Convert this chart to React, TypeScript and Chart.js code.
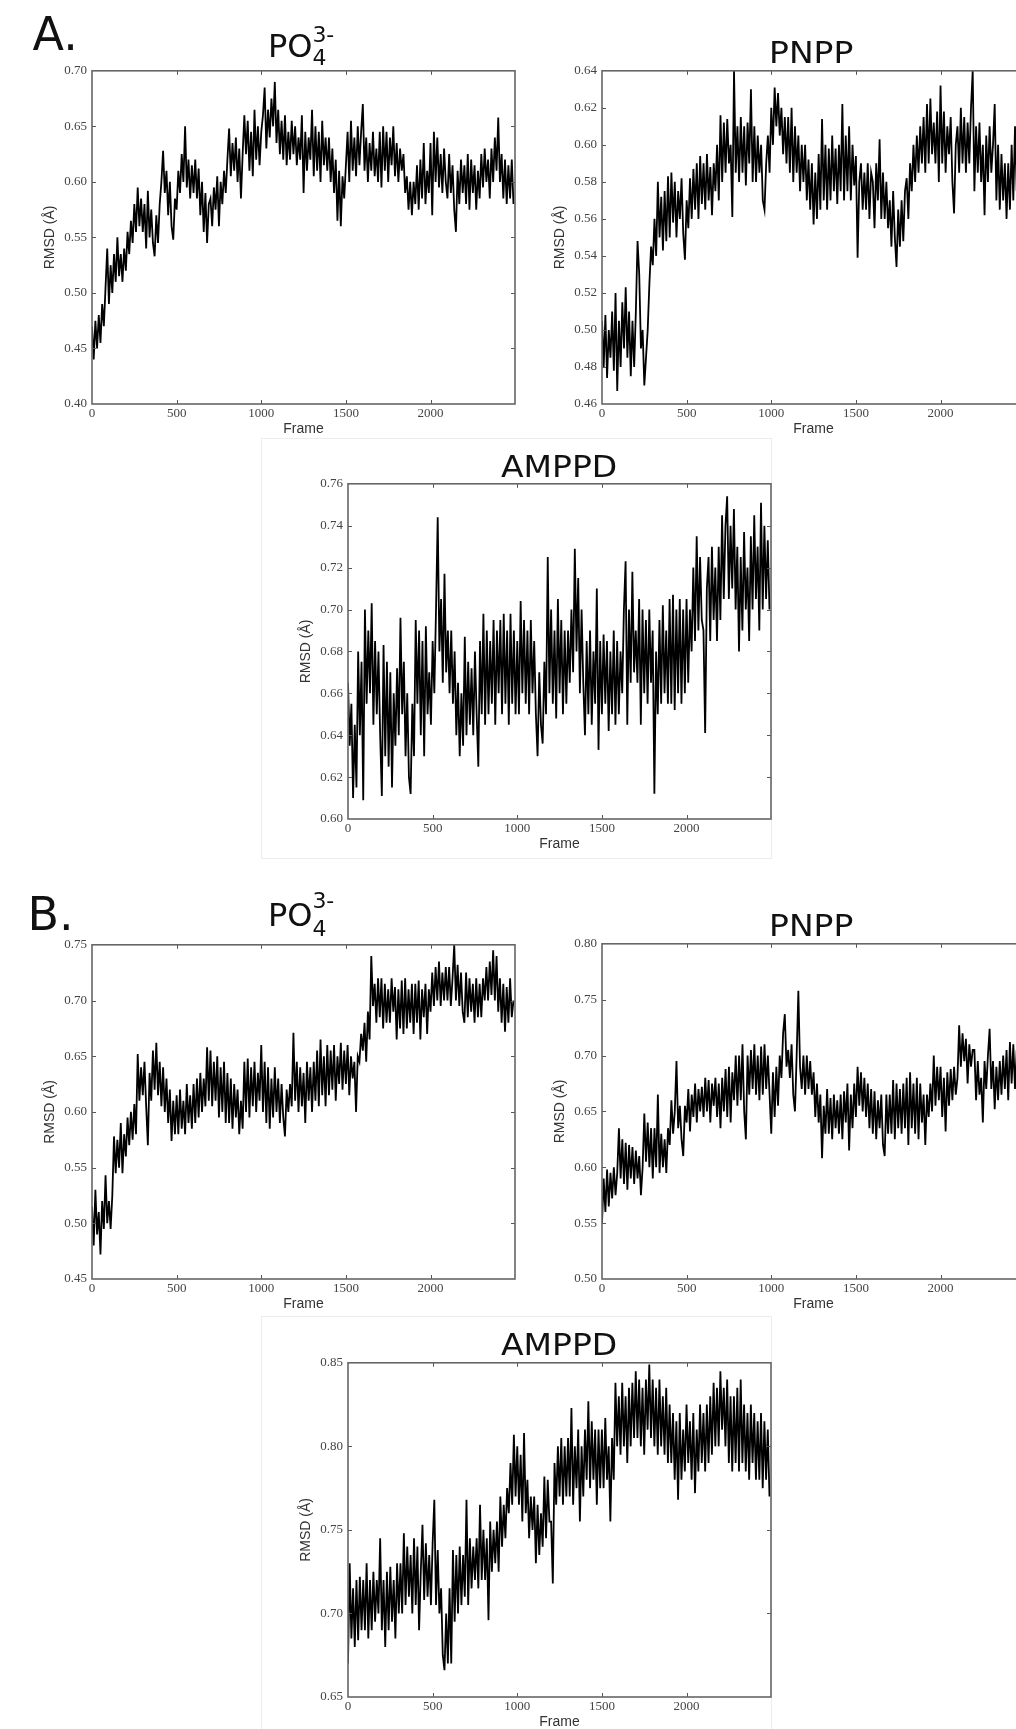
import React, { useEffect, useRef } from 'react';
import { Chart, registerables } from 'chart.js';

Chart.register(...registerables);

// ---------- data (RMSD values read every 10 frames) ----------
const FRAME_STEP = 10;
const X_MAX = 2499;
const xTicks = [0, 500, 1000, 1500, 2000];

const aPo4 = [
  0.47, 0.44, 0.475, 0.45, 0.48, 0.455, 0.49, 0.47, 0.505, 0.54,
  0.49, 0.525, 0.50, 0.535, 0.51, 0.55, 0.515, 0.535, 0.51, 0.54,
  0.52, 0.555, 0.535, 0.565, 0.545, 0.58, 0.555, 0.595, 0.56, 0.585,
  0.555, 0.58, 0.54, 0.592, 0.55, 0.575, 0.545, 0.533, 0.57, 0.545,
  0.58, 0.60, 0.628, 0.59, 0.61, 0.57, 0.60, 0.56, 0.548, 0.585,
  0.575, 0.61, 0.59, 0.625, 0.60, 0.65, 0.595, 0.62, 0.585, 0.615,
  0.59, 0.62, 0.585, 0.612, 0.57, 0.60, 0.555, 0.59, 0.545, 0.58,
  0.585, 0.56, 0.595, 0.575, 0.605, 0.56, 0.60, 0.58, 0.61, 0.59,
  0.62, 0.648, 0.605, 0.635, 0.61, 0.64, 0.60, 0.63, 0.585, 0.625,
  0.66, 0.625, 0.655, 0.61, 0.645, 0.605, 0.665, 0.62, 0.65, 0.615,
  0.645, 0.66, 0.685, 0.63, 0.665, 0.64, 0.675, 0.65, 0.69, 0.635,
  0.665, 0.625, 0.655, 0.62, 0.66, 0.615, 0.645, 0.62, 0.655, 0.625,
  0.65, 0.615, 0.64, 0.62, 0.66, 0.59, 0.645, 0.61, 0.64, 0.62,
  0.665, 0.605, 0.65, 0.61, 0.645, 0.60, 0.655, 0.615, 0.64, 0.61,
  0.64, 0.60, 0.63, 0.59, 0.62, 0.565, 0.61, 0.56, 0.605, 0.585,
  0.615, 0.645, 0.60, 0.655, 0.61, 0.64, 0.605, 0.65, 0.615, 0.645,
  0.67, 0.61, 0.64, 0.60, 0.635, 0.61, 0.645, 0.605, 0.63, 0.60,
  0.645, 0.595, 0.65, 0.61, 0.645, 0.60, 0.64, 0.615, 0.65, 0.605,
  0.635, 0.60, 0.63, 0.61, 0.625, 0.59, 0.605, 0.575, 0.60, 0.57,
  0.60, 0.58, 0.615, 0.575, 0.62, 0.585, 0.635, 0.58, 0.61, 0.59,
  0.635, 0.57, 0.645, 0.60, 0.64, 0.595, 0.625, 0.59, 0.63, 0.60,
  0.585, 0.625, 0.59, 0.615, 0.575, 0.555, 0.61, 0.58, 0.62, 0.59,
  0.615, 0.58, 0.625, 0.575, 0.62, 0.59, 0.615, 0.575, 0.61, 0.585,
  0.625, 0.595, 0.63, 0.60, 0.62, 0.585, 0.63, 0.60, 0.64, 0.61,
  0.658, 0.60, 0.625, 0.585, 0.62, 0.58, 0.615, 0.585, 0.62, 0.58,
];

const aPnpp = [
  0.505, 0.48, 0.508, 0.474, 0.50, 0.485, 0.51, 0.478, 0.52, 0.467,
  0.505, 0.48, 0.515, 0.49, 0.523, 0.485, 0.51, 0.475, 0.505, 0.48,
  0.51, 0.548, 0.53, 0.49, 0.50, 0.47, 0.485, 0.50, 0.525, 0.545,
  0.535, 0.56, 0.54, 0.58, 0.55, 0.572, 0.543, 0.575, 0.548, 0.583,
  0.55, 0.585, 0.558, 0.58, 0.55, 0.575, 0.56, 0.582, 0.552, 0.538,
  0.57, 0.555, 0.582, 0.56, 0.587, 0.565, 0.59, 0.56, 0.594, 0.568,
  0.59, 0.565, 0.595, 0.57, 0.588, 0.562, 0.59, 0.575, 0.60, 0.57,
  0.616, 0.58, 0.612, 0.585, 0.614, 0.59, 0.60, 0.561, 0.64, 0.585,
  0.61, 0.58, 0.615, 0.585, 0.61, 0.578, 0.612, 0.59, 0.63, 0.58,
  0.61, 0.58, 0.605, 0.585, 0.60, 0.57, 0.565, 0.59, 0.605, 0.585,
  0.62, 0.60, 0.631, 0.61, 0.628, 0.605, 0.62, 0.595, 0.615, 0.59,
  0.615, 0.585, 0.62, 0.58, 0.61, 0.585, 0.605, 0.575, 0.60, 0.58,
  0.60, 0.57, 0.592, 0.565, 0.59, 0.557, 0.585, 0.56, 0.595, 0.565,
  0.614, 0.57, 0.60, 0.565, 0.598, 0.57, 0.605, 0.575, 0.598, 0.568,
  0.60, 0.575, 0.622, 0.57, 0.605, 0.575, 0.61, 0.57, 0.60, 0.578,
  0.594, 0.539, 0.58, 0.59, 0.565, 0.585, 0.565, 0.59, 0.56, 0.585,
  0.58, 0.555, 0.59, 0.57, 0.603, 0.56, 0.585, 0.56, 0.58, 0.555,
  0.57, 0.545, 0.575, 0.55, 0.534, 0.565, 0.545, 0.57, 0.548, 0.575,
  0.582, 0.56, 0.59, 0.575, 0.60, 0.58, 0.605, 0.585, 0.61, 0.59,
  0.615, 0.585, 0.622, 0.59, 0.625, 0.595, 0.612, 0.59, 0.618, 0.58,
  0.632, 0.59, 0.618, 0.585, 0.61, 0.595, 0.615, 0.58, 0.563, 0.60,
  0.61, 0.585, 0.62, 0.59, 0.615, 0.585, 0.612, 0.59, 0.62, 0.64,
  0.575, 0.61, 0.585, 0.612, 0.58, 0.60, 0.562, 0.605, 0.58, 0.61,
  0.585, 0.60, 0.622, 0.57, 0.60, 0.565, 0.595, 0.57, 0.59, 0.56,
  0.59, 0.565, 0.60, 0.57, 0.61, 0.575, 0.595, 0.565, 0.59, 0.575,
];

const aAmppd = [
  0.665, 0.635, 0.655, 0.61, 0.645, 0.615, 0.68, 0.64, 0.675, 0.609,
  0.70, 0.655, 0.69, 0.66, 0.703, 0.645, 0.685, 0.65, 0.68, 0.64,
  0.611, 0.683, 0.63, 0.675, 0.625, 0.67, 0.615, 0.66, 0.635, 0.672,
  0.64, 0.696, 0.65, 0.675, 0.63, 0.66, 0.62, 0.612, 0.655, 0.63,
  0.695, 0.655, 0.69, 0.64, 0.685, 0.63, 0.692, 0.65, 0.67, 0.645,
  0.685, 0.66, 0.70, 0.744, 0.68, 0.705, 0.665, 0.717, 0.67, 0.69,
  0.66, 0.69, 0.655, 0.68, 0.64, 0.665, 0.63, 0.66, 0.635, 0.687,
  0.64, 0.675, 0.645, 0.672, 0.64, 0.68, 0.65, 0.625, 0.685, 0.65,
  0.698, 0.645, 0.69, 0.65, 0.685, 0.655, 0.695, 0.645, 0.69, 0.66,
  0.695, 0.65, 0.698, 0.655, 0.69, 0.645, 0.698, 0.655, 0.69, 0.65,
  0.685, 0.65, 0.704, 0.66, 0.695, 0.655, 0.69, 0.65, 0.695, 0.66,
  0.685, 0.65, 0.63, 0.67, 0.645, 0.636, 0.675, 0.65, 0.725, 0.66,
  0.70, 0.655, 0.69, 0.648, 0.705, 0.66, 0.695, 0.65, 0.69, 0.655,
  0.69, 0.665, 0.70, 0.67, 0.729, 0.68, 0.715, 0.66, 0.70, 0.665,
  0.64, 0.685, 0.65, 0.69, 0.645, 0.68, 0.655, 0.71, 0.633, 0.685,
  0.65, 0.688, 0.655, 0.685, 0.642, 0.68, 0.65, 0.69, 0.645, 0.685,
  0.65, 0.68, 0.66, 0.70, 0.723, 0.645, 0.70, 0.665, 0.718, 0.67,
  0.69, 0.665, 0.705, 0.645, 0.70, 0.66, 0.695, 0.655, 0.70, 0.665,
  0.69, 0.612, 0.68, 0.65, 0.695, 0.655, 0.702, 0.66, 0.69, 0.655,
  0.705, 0.655, 0.707, 0.652, 0.70, 0.66, 0.705, 0.655, 0.70, 0.66,
  0.705, 0.665, 0.70, 0.68, 0.72, 0.685, 0.735, 0.69, 0.725, 0.695,
  0.69, 0.641, 0.71, 0.725, 0.685, 0.73, 0.695, 0.72, 0.685, 0.73,
  0.695, 0.745, 0.705, 0.74, 0.754, 0.705, 0.74, 0.71, 0.748, 0.70,
  0.73, 0.68, 0.725, 0.69, 0.737, 0.70, 0.72, 0.685, 0.735, 0.70,
  0.745, 0.705, 0.73, 0.69, 0.751, 0.70, 0.74, 0.705, 0.733, 0.70,
];

const bPo4 = [
  0.515, 0.48, 0.53, 0.49, 0.51, 0.472, 0.52, 0.495, 0.543, 0.50,
  0.52, 0.495, 0.525, 0.578, 0.545, 0.575, 0.55, 0.59, 0.545, 0.58,
  0.56, 0.595, 0.57, 0.60, 0.575, 0.607, 0.58, 0.652, 0.61, 0.64,
  0.615, 0.645, 0.605, 0.57, 0.635, 0.61, 0.655, 0.62, 0.662, 0.615,
  0.645, 0.605, 0.64, 0.60, 0.63, 0.59, 0.62, 0.574, 0.61, 0.58,
  0.615, 0.58, 0.62, 0.585, 0.61, 0.58, 0.625, 0.59, 0.615, 0.585,
  0.625, 0.59, 0.63, 0.595, 0.635, 0.60, 0.63, 0.605, 0.658, 0.61,
  0.655, 0.605, 0.645, 0.61, 0.65, 0.595, 0.64, 0.60, 0.645, 0.59,
  0.635, 0.59, 0.63, 0.585, 0.625, 0.595, 0.62, 0.58, 0.61, 0.585,
  0.645, 0.60, 0.648, 0.595, 0.64, 0.605, 0.645, 0.60, 0.635, 0.61,
  0.66, 0.60, 0.645, 0.59, 0.64, 0.585, 0.63, 0.595, 0.64, 0.60,
  0.63, 0.59, 0.625, 0.595, 0.578, 0.62, 0.60, 0.625, 0.605, 0.671,
  0.61, 0.645, 0.60, 0.64, 0.605, 0.635, 0.59, 0.645, 0.61, 0.64,
  0.60, 0.645, 0.61, 0.655, 0.605, 0.665, 0.615, 0.65, 0.605, 0.66,
  0.615, 0.655, 0.62, 0.66, 0.61, 0.65, 0.625, 0.662, 0.62, 0.655,
  0.625, 0.66, 0.615, 0.65, 0.63, 0.645, 0.60, 0.65, 0.645, 0.67,
  0.655, 0.68, 0.645, 0.69, 0.665, 0.74, 0.695, 0.715, 0.68, 0.72,
  0.685, 0.72, 0.675, 0.715, 0.68, 0.71, 0.68, 0.72, 0.69, 0.712,
  0.665, 0.71, 0.675, 0.718, 0.67, 0.72, 0.675, 0.71, 0.68, 0.715,
  0.67, 0.715, 0.68, 0.718, 0.665, 0.71, 0.685, 0.715, 0.67, 0.71,
  0.69, 0.725, 0.695, 0.73, 0.70, 0.735, 0.695, 0.725, 0.70, 0.73,
  0.70, 0.73, 0.695, 0.72, 0.75, 0.70, 0.732, 0.695, 0.725, 0.69,
  0.68, 0.725, 0.685, 0.72, 0.69, 0.715, 0.68, 0.72, 0.685, 0.715,
  0.685, 0.72, 0.70, 0.73, 0.70, 0.735, 0.705, 0.745, 0.70, 0.74,
  0.69, 0.72, 0.68, 0.715, 0.672, 0.712, 0.68, 0.72, 0.685, 0.70,
];

const bPnpp = [
  0.55, 0.59, 0.56, 0.598, 0.565, 0.595, 0.572, 0.60, 0.575, 0.595,
  0.635, 0.59, 0.625, 0.585, 0.622, 0.58, 0.62, 0.59, 0.618, 0.585,
  0.615, 0.59, 0.61, 0.575, 0.60, 0.648, 0.605, 0.64, 0.60, 0.635,
  0.59, 0.635, 0.60, 0.665, 0.595, 0.63, 0.60, 0.625, 0.595, 0.635,
  0.62, 0.66, 0.63, 0.65, 0.695, 0.635, 0.655, 0.625, 0.61, 0.655,
  0.64, 0.67, 0.632, 0.665, 0.645, 0.675, 0.64, 0.67, 0.65, 0.672,
  0.645, 0.68, 0.65, 0.678, 0.64, 0.675, 0.655, 0.68, 0.645, 0.675,
  0.635, 0.68, 0.65, 0.688, 0.645, 0.69, 0.64, 0.685, 0.66, 0.70,
  0.655, 0.70, 0.66, 0.71, 0.65, 0.625, 0.70, 0.665, 0.705, 0.67,
  0.71, 0.665, 0.70, 0.66, 0.708, 0.665, 0.71, 0.67, 0.70, 0.665,
  0.63, 0.685, 0.645, 0.69, 0.655, 0.70, 0.68, 0.72, 0.737, 0.69,
  0.705, 0.68, 0.71, 0.665, 0.65, 0.70, 0.758, 0.69, 0.67, 0.70,
  0.665, 0.70, 0.67, 0.695, 0.665, 0.685, 0.645, 0.675, 0.64, 0.665,
  0.608, 0.655, 0.63, 0.67, 0.63, 0.662, 0.625, 0.665, 0.635, 0.66,
  0.63, 0.665, 0.625, 0.668, 0.64, 0.675, 0.615, 0.665, 0.635, 0.675,
  0.645, 0.69, 0.655, 0.685, 0.65, 0.68, 0.645, 0.675, 0.635, 0.67,
  0.63, 0.668, 0.625, 0.66, 0.635, 0.665, 0.62, 0.61, 0.665, 0.63,
  0.665, 0.63, 0.678, 0.625, 0.675, 0.635, 0.67, 0.63, 0.675, 0.635,
  0.68, 0.62, 0.685, 0.635, 0.675, 0.63, 0.68, 0.625, 0.675, 0.64,
  0.665, 0.62, 0.665, 0.645, 0.675, 0.65, 0.70, 0.655, 0.69, 0.66,
  0.69, 0.645, 0.68, 0.632, 0.685, 0.655, 0.688, 0.66, 0.69, 0.665,
  0.68, 0.727, 0.69, 0.72, 0.695, 0.715, 0.675, 0.71, 0.69, 0.705,
  0.705, 0.66, 0.695, 0.665, 0.68, 0.64, 0.695, 0.67, 0.70, 0.724,
  0.67, 0.695, 0.652, 0.69, 0.66, 0.695, 0.665, 0.70, 0.67, 0.705,
  0.66, 0.712, 0.675, 0.71, 0.67, 0.705, 0.675, 0.70, 0.68, 0.71,
];

const bAmppd = [
  0.67, 0.73, 0.685, 0.715, 0.68, 0.72, 0.684, 0.722, 0.69, 0.72,
  0.69, 0.73, 0.685, 0.72, 0.69, 0.725, 0.695, 0.72, 0.70, 0.745,
  0.69, 0.72, 0.68, 0.725, 0.69, 0.728, 0.695, 0.72, 0.685, 0.73,
  0.70, 0.73, 0.70, 0.748, 0.705, 0.74, 0.71, 0.735, 0.70, 0.745,
  0.705, 0.74, 0.69, 0.725, 0.753, 0.708, 0.742, 0.71, 0.735, 0.705,
  0.742, 0.768, 0.705, 0.738, 0.70, 0.715, 0.675, 0.666, 0.70, 0.67,
  0.715, 0.67, 0.738, 0.695, 0.735, 0.70, 0.74, 0.705, 0.735, 0.71,
  0.768, 0.705, 0.745, 0.715, 0.74, 0.72, 0.745, 0.715, 0.765, 0.72,
  0.75, 0.72, 0.745, 0.696, 0.755, 0.725, 0.75, 0.73, 0.755, 0.725,
  0.77, 0.74, 0.765, 0.745, 0.775, 0.76, 0.79, 0.765, 0.807, 0.77,
  0.80, 0.765, 0.795, 0.755, 0.808, 0.76, 0.78, 0.745, 0.77, 0.75,
  0.77, 0.73, 0.765, 0.735, 0.76, 0.74, 0.782, 0.745, 0.78, 0.755,
  0.755, 0.718, 0.79, 0.765, 0.80, 0.77, 0.805, 0.765, 0.80, 0.77,
  0.805, 0.77, 0.823, 0.765, 0.80, 0.775, 0.81, 0.755, 0.80, 0.77,
  0.81, 0.78, 0.827, 0.775, 0.815, 0.78, 0.81, 0.765, 0.81, 0.775,
  0.81, 0.775, 0.817, 0.78, 0.80, 0.755, 0.805, 0.78, 0.838, 0.80,
  0.83, 0.795, 0.838, 0.80, 0.83, 0.79, 0.835, 0.80, 0.838, 0.805,
  0.845, 0.805, 0.84, 0.80, 0.835, 0.795, 0.84, 0.81, 0.849, 0.805,
  0.84, 0.80, 0.835, 0.795, 0.84, 0.80, 0.83, 0.795, 0.835, 0.79,
  0.825, 0.79, 0.82, 0.78, 0.815, 0.768, 0.82, 0.78, 0.81, 0.785,
  0.825, 0.79, 0.815, 0.78, 0.82, 0.772, 0.81, 0.785, 0.825, 0.79,
  0.82, 0.785, 0.825, 0.79, 0.83, 0.795, 0.838, 0.80, 0.835, 0.80,
  0.845, 0.81, 0.835, 0.80, 0.84, 0.79, 0.83, 0.785, 0.83, 0.79,
  0.835, 0.785, 0.84, 0.79, 0.825, 0.785, 0.82, 0.78, 0.825, 0.79,
  0.82, 0.78, 0.815, 0.78, 0.82, 0.775, 0.815, 0.78, 0.81, 0.77,
];

const frames = aPo4.map((_, i) => i * FRAME_STEP);

// ---------- layout ----------
const PLOT_W = 423;
const Y_AXIS_W = 60;
const X_AXIS_H = 40;
const PAD_TOP = 12;
const PAD_RIGHT = 8;

type Spec = {
  id: string;
  values: number[];
  yMin: number;
  yMax: number;
  yStep: number;
  plotLeft: number;
  plotTop: number;
  plotH: number;
};

const specs: Spec[] = [
  { id: 'aPo4', values: aPo4, yMin: 0.4, yMax: 0.7, yStep: 0.05, plotLeft: 92, plotTop: 70, plotH: 334 },
  { id: 'aPnpp', values: aPnpp, yMin: 0.46, yMax: 0.64, yStep: 0.02, plotLeft: 602, plotTop: 70, plotH: 334 },
  { id: 'aAmppd', values: aAmppd, yMin: 0.6, yMax: 0.76, yStep: 0.02, plotLeft: 348, plotTop: 483, plotH: 336 },
  { id: 'bPo4', values: bPo4, yMin: 0.45, yMax: 0.75, yStep: 0.05, plotLeft: 92, plotTop: 944, plotH: 335 },
  { id: 'bPnpp', values: bPnpp, yMin: 0.5, yMax: 0.8, yStep: 0.05, plotLeft: 602, plotTop: 943, plotH: 336 },
  { id: 'bAmppd', values: bAmppd, yMin: 0.65, yMax: 0.85, yStep: 0.05, plotLeft: 348, plotTop: 1362, plotH: 335 },
];

const frameBoxPlugin = {
  id: 'frameBox',
  afterDatasetsDraw(chart: any) {
    const { ctx, chartArea: a, scales } = chart;
    const tl = 4;
    ctx.save();
    ctx.strokeStyle = '#555';
    ctx.lineWidth = 1;
    ctx.beginPath();
    scales.x.ticks.forEach((t: any) => {
      const px = Math.round(scales.x.getPixelForValue(t.value)) + 0.5;
      if (px <= a.left + 1 || px >= a.right - 1) return;
      ctx.moveTo(px, a.bottom);
      ctx.lineTo(px, a.bottom - tl);
      ctx.moveTo(px, a.top);
      ctx.lineTo(px, a.top + tl);
    });
    scales.y.ticks.forEach((t: any) => {
      const py = Math.round(scales.y.getPixelForValue(t.value)) + 0.5;
      if (py <= a.top + 1 || py >= a.bottom - 1) return;
      ctx.moveTo(a.left, py);
      ctx.lineTo(a.left + tl, py);
      ctx.moveTo(a.right, py);
      ctx.lineTo(a.right - tl, py);
    });
    ctx.stroke();
    ctx.strokeStyle = '#666';
    ctx.lineWidth = 1.6;
    ctx.strokeRect(a.left, a.top, a.right - a.left, a.bottom - a.top);
    ctx.restore();
  },
};

function RmsdChart({ spec }: { spec: Spec }) {
  const ref = useRef<HTMLCanvasElement | null>(null);
  const w = Y_AXIS_W + PLOT_W + PAD_RIGHT;
  const h = PAD_TOP + spec.plotH + X_AXIS_H;

  useEffect(() => {
    if (!ref.current) return;
    const tickFont = { family: "'Liberation Serif', serif", size: 13 };
    const titleFont = { family: "'Liberation Sans', sans-serif", size: 14 };
    const chart = new Chart(ref.current, {
      type: 'line',
      data: {
        datasets: [
          {
            data: frames.map((f, i) => ({ x: f, y: spec.values[i] })),
            borderColor: '#000',
            borderWidth: 1.8,
            pointRadius: 0,
            tension: 0,
            fill: false,
          },
        ],
      },
      options: {
        responsive: false,
        animation: false,
        devicePixelRatio: 1,
        events: [],
        layout: { padding: { left: 0, top: PAD_TOP, right: PAD_RIGHT, bottom: 0 } },
        plugins: { legend: { display: false }, tooltip: { enabled: false }, title: { display: false } },
        scales: {
          x: {
            type: 'linear',
            min: 0,
            max: X_MAX,
            afterBuildTicks: (s: any) => {
              s.ticks = xTicks.map((v) => ({ value: v }));
            },
            afterFit: (s: any) => {
              s.height = X_AXIS_H;
            },
            grid: { display: false, drawTicks: false },
            border: { display: false },
            ticks: {
              autoSkip: false,
              maxRotation: 0,
              padding: 1.5,
              color: '#444',
              font: tickFont,
              callback: (v: any) => String(v),
            },
            title: {
              display: true,
              text: 'Frame',
              color: '#333',
              font: titleFont,
              padding: { top: 0, bottom: 6 },
            },
          },
          y: {
            type: 'linear',
            min: spec.yMin,
            max: spec.yMax,
            afterFit: (s: any) => {
              s.width = Y_AXIS_W;
            },
            grid: { display: false, drawTicks: false },
            border: { display: false },
            ticks: {
              stepSize: spec.yStep,
              autoSkip: false,
              padding: 5,
              color: '#444',
              font: tickFont,
              callback: (v: any) => Number(v).toFixed(2),
            },
            title: {
              display: true,
              text: 'RMSD (Å)',
              color: '#333',
              font: titleFont,
              padding: { top: 9.4, bottom: 0 },
            },
          },
        },
      } as any,
      plugins: [frameBoxPlugin],
    });
    return () => chart.destroy();
  }, [spec]);

  return (
    <canvas
      ref={ref}
      width={w}
      height={h}
      style={{
        position: 'absolute',
        left: spec.plotLeft - Y_AXIS_W,
        top: spec.plotTop - PAD_TOP,
        width: w,
        height: h,
      }}
    />
  );
}

const SANS = "'DejaVu Sans', sans-serif";

function Heading({
  left,
  baseline,
  size,
  stretch = 1,
  children,
}: {
  left: number;
  baseline: number;
  size: number;
  stretch?: number;
  children: React.ReactNode;
}) {
  return (
    <div
      style={{
        position: 'absolute',
        left,
        top: baseline - 0.846 * size,
        fontFamily: SANS,
        fontSize: size,
        lineHeight: `${size}px`,
        whiteSpace: 'nowrap',
        color: '#111',
        transform: `scaleX(${stretch})`,
        transformOrigin: 'left top',
      }}
    >
      {children}
    </div>
  );
}

function Po4({ sub, sup }: { sub: number; sup: number }) {
  return (
    <>
      PO
      <span style={{ fontSize: 22, position: 'relative', top: sub }}>4</span>
      <span style={{ fontSize: 22, position: 'relative', top: sup, marginLeft: -14 }}>3-</span>
    </>
  );
}

function PanelBox({ left, top, width, height }: { left: number; top: number; width: number; height: number }) {
  return (
    <div
      style={{
        position: 'absolute',
        left,
        top,
        width,
        height,
        border: '1px solid #ececec',
        boxSizing: 'border-box',
      }}
    />
  );
}

export default function App() {
  return (
    <div
      style={{
        position: 'absolute',
        left: 0,
        top: 0,
        width: 1016,
        height: 1729,
        overflow: 'hidden',
        background: '#fff',
      }}
    >
      <PanelBox left={261} top={438} width={511} height={421} />
      <PanelBox left={261} top={1316} width={511} height={420} />

      {specs.map((s) => (
        <RmsdChart key={s.id} spec={s} />
      ))}

      <Heading left={32.6} baseline={50} size={46}>A.</Heading>
      <Heading left={27.4} baseline={930} size={46}>B.</Heading>

      <Heading left={267.9} baseline={57} size={32}>
        <Po4 sub={8} sup={-15} />
      </Heading>
      <Heading left={768.5} baseline={63.3} size={30} stretch={1.1}>PNPP</Heading>
      <Heading left={501.4} baseline={477.3} size={30} stretch={1.1}>AMPPD</Heading>

      <Heading left={267.9} baseline={926} size={32}>
        <Po4 sub={10} sup={-18} />
      </Heading>
      <Heading left={768.5} baseline={936.7} size={30} stretch={1.1}>PNPP</Heading>
      <Heading left={501.4} baseline={1355} size={30} stretch={1.1}>AMPPD</Heading>
    </div>
  );
}
